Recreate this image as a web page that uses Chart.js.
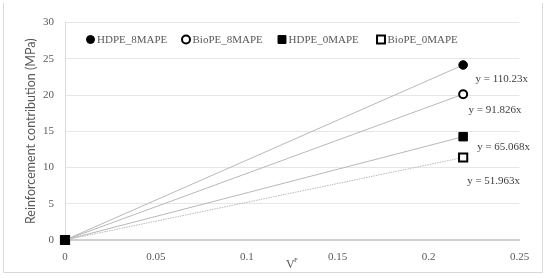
<!DOCTYPE html>
<html>
<head>
<meta charset="utf-8">
<script src="https://cdn.jsdelivr.net/npm/chart.js@4/dist/chart.umd.min.js"></script>
<style>
  html, body { margin: 0; padding: 0; background: #fff; }
  #wrap { width: 550px; height: 278px; }
</style>
</head>
<body>
<div id="wrap"><canvas id="grafico" width="550" height="278"></canvas></div>
<script>
// dados
const seriesNames = ["HDPE_8MAPE", "BioPE_8MAPE", "HDPE_0MAPE", "BioPE_0MAPE"];
const vfValues = [0, 0.219];
const hdpe8 = [0, 24.14];
const bio8 = [0, 20.11];
const hdpe0 = [0, 14.25];
const bio0 = [0, 11.38];
const equations = ["y = 110.23x", "y = 91.826x", "y = 65.068x", "y = 51.963x"];
const xTickValues = [0, 0.05, 0.1, 0.15, 0.2, 0.25];
const yTickValues = [0, 5, 10, 15, 20, 25, 30];

const serif = "'Liberation Serif', 'Times New Roman', serif";
const cinza = "#595959";

const estilos = [
  { style: "circle", radius: 4.3, fill: "#000", bw: 1, dash: [] },
  { style: "circle", radius: 4, fill: "#fff", bw: 2, dash: [] },
  { style: "rect", radius: 6, fill: "#000", bw: 1, dash: [] },
  { style: "rect", radius: 5.8, fill: "#fff", bw: 2, dash: [1.5, 1] }
];

const valores = [hdpe8, bio8, hdpe0, bio0];

const datasets = seriesNames.map((nome, i) => ({
  label: nome,
  data: vfValues.map((x, j) => ({ x, y: valores[i][j] })),
  showLine: true,
  clip: false,
  borderColor: "#b8b8b8",
  borderWidth: 1,
  borderDash: estilos[i].dash,
  pointStyle: estilos[i].style,
  pointRadius: estilos[i].radius,
  pointBackgroundColor: estilos[i].fill,
  pointBorderColor: "#000",
  pointBorderWidth: estilos[i].bw,
  order: i === 2 ? 0 : 1
}));

/* ---------- moldura, legenda, equações e título do eixo x ---------- */
const extras = {
  id: "extras",
  beforeDraw(chart) {
    const ctx = chart.ctx;
    ctx.save();
    ctx.strokeStyle = "#d9d9d9";
    ctx.lineWidth = 1;
    ctx.beginPath();
    ctx.moveTo(3.5, 3);
    ctx.lineTo(3.5, 272.5);
    ctx.lineTo(542.5, 272.5);
    ctx.lineTo(542.5, 3);
    ctx.stroke();
    ctx.restore();
  },
  afterDraw(chart) {
    const ctx = chart.ctx;
    const area = chart.chartArea;
    ctx.save();

    // legenda dentro da área do gráfico
    const legX = [90.5, 186, 282, 381];
    const legY = 39.5;
    ctx.font = "11px " + serif;
    ctx.textBaseline = "middle";
    ctx.textAlign = "left";
    seriesNames.forEach((nome, i) => {
      const e = estilos[i];
      ctx.fillStyle = e.fill;
      ctx.strokeStyle = "#000";
      ctx.lineWidth = e.bw;
      Chart.helpers.drawPoint(ctx, { pointStyle: e.style, radius: e.style === "rect" ? 5.6 : 4, rotation: 0, borderWidth: e.bw }, legX[i], legY);
      ctx.fillStyle = cinza;
      ctx.fillText(nome, legX[i] + 6.5, legY + 0.5);
    });

    // equações das linhas de tendência
    const desloc = [[12.3, 14.3], [5.3, 15.7], [14, 10.4], [4, 24]];
    ctx.fillStyle = "#404040";
    equations.forEach((txt, i) => {
      const pt = chart.getDatasetMeta(i).data[1];
      ctx.fillText(txt, pt.x + desloc[i][0], pt.y + desloc[i][1]);
    });

    // título do eixo x: V com F sobrescrito
    const cx = (area.left + area.right) / 2;
    ctx.fillStyle = cinza;
    ctx.textBaseline = "alphabetic";
    ctx.font = "12px " + serif;
    const wV = ctx.measureText("V").width;
    ctx.fillText("V", cx - wV / 2 - 2, 267.5);
    ctx.font = "7px " + serif;
    ctx.fillText("F", cx + wV / 2 - 2.5, 262);

    ctx.restore();
  }
};

new Chart(document.getElementById("grafico"), {
  type: "scatter",
  data: { datasets },
  plugins: [extras],
  options: {
    responsive: false,
    animation: false,
    layout: { padding: { top: 22.5, right: 30.5, bottom: 0, left: 0 } },
    plugins: {
      legend: { display: false },
      tooltip: { enabled: false }
    },
    scales: {
      x: {
        type: "linear",
        min: 0,
        max: 0.25,
        afterBuildTicks: s => { s.ticks = xTickValues.map(v => ({ value: v })); },
        afterFit: s => { s.height = 38; },
        grid: { display: false, drawTicks: false },
        border: { color: "#d0d0d0", width: 2 },
        ticks: {
          padding: 11,
          color: cinza,
          font: { family: serif, size: 11 },
          callback: v => String(Number(v.toFixed(2)))
        }
      },
      y: {
        type: "linear",
        min: 0,
        max: 30,
        afterBuildTicks: s => { s.ticks = yTickValues.map(v => ({ value: v })); },
        afterFit: s => { s.width = 65; },
        grid: { color: "#e6e6e6", drawTicks: false },
        border: { color: "#d9d9d9", width: 1 },
        ticks: {
          padding: 11,
          color: cinza,
          font: { family: serif, size: 11 }
        },
        title: {
          display: true,
          text: "Reinforcement contribution (MPa)",
          color: cinza,
          font: { family: "Lato, 'Open Sans', sans-serif", size: 12.5 },
          padding: { top: 23, bottom: 0 }
        }
      }
    }
  }
});
</script>
</body>
</html>
